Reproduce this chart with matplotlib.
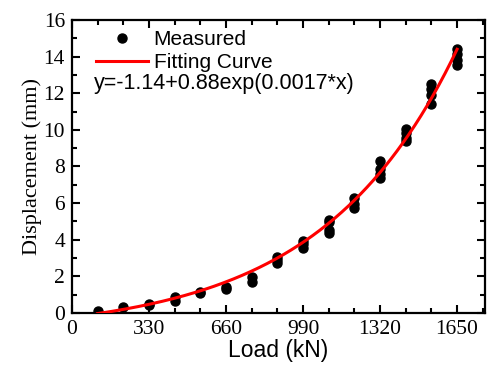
"""
Load-displacement measurements with an exponential fitting curve.
"""

import numpy as np
import matplotlib
matplotlib.use("Agg")
import matplotlib.pyplot as plt
from matplotlib.ticker import MultipleLocator

# measured points
load_kn = [110, 220, 330, 330, 440, 440, 550, 550, 660, 660, 770, 770,
           880, 880, 880, 990, 990, 990,
           1100, 1100, 1100, 1100, 1210, 1210, 1210,
           1320, 1320, 1320, 1320, 1430, 1430, 1430, 1430,
           1540, 1540, 1540, 1540, 1650, 1650, 1650, 1650]
disp_mm = [0.1, 0.3, 0.5, 0.42, 0.85, 0.65, 1.1, 1.15, 1.3, 1.4, 1.95, 1.7,
           3.05, 2.9, 2.75, 3.9, 3.75, 3.55,
           5.1, 4.95, 4.55, 4.35, 6.25, 5.95, 5.75,
           8.3, 7.85, 7.6, 7.35, 10.05, 9.85, 9.55, 9.4,
           12.5, 12.25, 11.9, 11.4, 14.4, 14.15, 13.8, 13.55]

fit_label = "y=-1.14+0.88exp(0.0017*x)"
fit_a, fit_b, fit_c = -1.14, 0.91, 0.00172


def main():
    fig = plt.figure(figsize=(4.89, 3.72), dpi=100)
    ax = fig.add_axes([0.147, 0.159, 0.845, 0.787])

    ax.plot(load_kn, disp_mm, "o", color="black", markersize=6.5,
            label="Measured", zorder=3)

    xs = np.linspace(110, 1650, 300)
    ax.plot(xs, fit_a + fit_b * np.exp(fit_c * xs), color="#ff0000",
            lw=2.2, label="Fitting Curve", zorder=4)

    ax.set_xlim(0, 1770)
    ax.set_ylim(0, 16)
    ax.xaxis.set_major_locator(MultipleLocator(330))
    ax.xaxis.set_minor_locator(MultipleLocator(110))
    ax.yaxis.set_major_locator(MultipleLocator(2))
    ax.yaxis.set_minor_locator(MultipleLocator(1))

    for s in ax.spines.values():
        s.set_linewidth(1.6)
    ax.tick_params(which="both", direction="in", top=True, right=True,
                   width=1.5)
    ax.tick_params(which="major", length=6, pad=5)
    ax.tick_params(which="minor", length=3.5)
    for lab in ax.get_xticklabels() + ax.get_yticklabels():
        lab.set_family("Liberation Serif")
        lab.set_fontsize(15.5)

    ax.set_xlabel("Load (kN)", family="Liberation Sans", fontsize=16.5,
                  labelpad=0)
    ax.set_ylabel("Displacement (mm)", family="Liberation Serif",
                  fontsize=16, labelpad=1)

    ax.legend(loc="upper left", bbox_to_anchor=(0.024, 1.015),
              frameon=False, handlelength=2.5, handletextpad=0.25,
              borderaxespad=0.3, labelspacing=0.2,
              prop={"family": "Liberation Sans", "size": 15})
    ax.text(0.054, 0.785, fit_label, transform=ax.transAxes,
            family="Liberation Sans", fontsize=15.5, va="center", ha="left")

    fig.savefig("out.png", dpi=100)


if __name__ == "__main__":
    main()
